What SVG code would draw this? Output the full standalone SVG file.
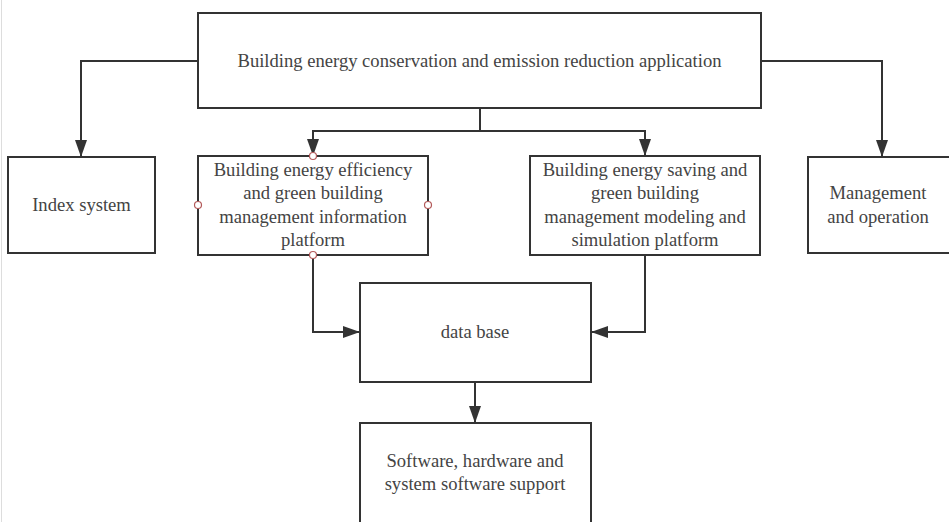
<svg xmlns="http://www.w3.org/2000/svg" width="949" height="522" viewBox="0 0 949 522">
<defs>
<marker id="arr" markerWidth="17" markerHeight="12" refX="16" refY="6" orient="auto" markerUnits="userSpaceOnUse">
<path d="M0,0 L17,6 L0,12 Z" fill="#333"/>
</marker>
<style>
.box{fill:#fff;stroke:#333;stroke-width:2}
.t{font-family:'Liberation Serif',serif;font-size:18.6px;fill:#444;text-anchor:middle}
.c{fill:none;stroke:#333;stroke-width:2}
.p{fill:#fff;stroke:#b35a5a;stroke-width:1.2}
</style>
</defs>
<rect width="949" height="522" fill="#fff"/>
<line x1="1.5" y1="0" x2="1.5" y2="522" stroke="#ddd" stroke-width="1"/>
<g id="connectors">
<path class="c" d="M198,61 H81 V156" marker-end="url(#arr)"/>
<path class="c" d="M761,61 H882 V156" marker-end="url(#arr)"/>
<path class="c" d="M480,108 V131"/>
<path class="c" d="M480,131 H313 V155" marker-end="url(#arr)"/>
<path class="c" d="M480,131 H645 V155" marker-end="url(#arr)"/>
<path class="c" d="M313,255 V332 H359" marker-end="url(#arr)"/>
<path class="c" d="M645,255 V332 H592" marker-end="url(#arr)"/>
<path class="c" d="M475,382 V422" marker-end="url(#arr)"/>
</g>
<g id="top" font-family="Liberation Serif">
<rect class="box" x="198" y="13" width="563" height="95"/>
<text class="t" x="479.500" y="67">Building energy conservation and emission reduction application</text>
</g>
<g id="index" font-family="Liberation Serif">
<rect class="box" x="8" y="157" width="147" height="96"/>
<text class="t" x="81.500" y="211">Index system</text>
</g>
<g id="mgmt-platform" font-family="Liberation Serif">
<rect class="box" x="198" y="156" width="230" height="99"/>
<text class="t" x="313" y="176">Building energy efficiency</text>
<text class="t" x="313" y="199">and green building</text>
<text class="t" x="313" y="223">management information</text>
<text class="t" x="313" y="246">platform</text>
<circle class="p" cx="313" cy="156" r="3.5"/>
<circle class="p" cx="313" cy="255" r="3.5"/>
<circle class="p" cx="198" cy="205" r="3.5"/>
<circle class="p" cx="428" cy="205" r="3.5"/>
</g>
<g id="model-platform" font-family="Liberation Serif">
<rect class="box" x="530" y="156" width="230" height="99"/>
<text class="t" x="645" y="176">Building energy saving and</text>
<text class="t" x="645" y="199">green building</text>
<text class="t" x="645" y="223">management modeling and</text>
<text class="t" x="645" y="246">simulation platform</text>
</g>
<g id="management" font-family="Liberation Serif">
<rect class="box" x="808" y="157" width="145" height="96"/>
<text class="t" x="878" y="199">Management</text>
<text class="t" x="878" y="223">and operation</text>
</g>
<g id="database" font-family="Liberation Serif">
<rect class="box" x="360" y="283" width="231" height="99"/>
<text class="t" x="475" y="338">data base</text>
</g>
<g id="support" font-family="Liberation Serif">
<rect class="box" x="360" y="423" width="231" height="104"/>
<text class="t" x="475" y="467">Software, hardware and</text>
<text class="t" x="475" y="490">system software support</text>
</g>
</svg>
